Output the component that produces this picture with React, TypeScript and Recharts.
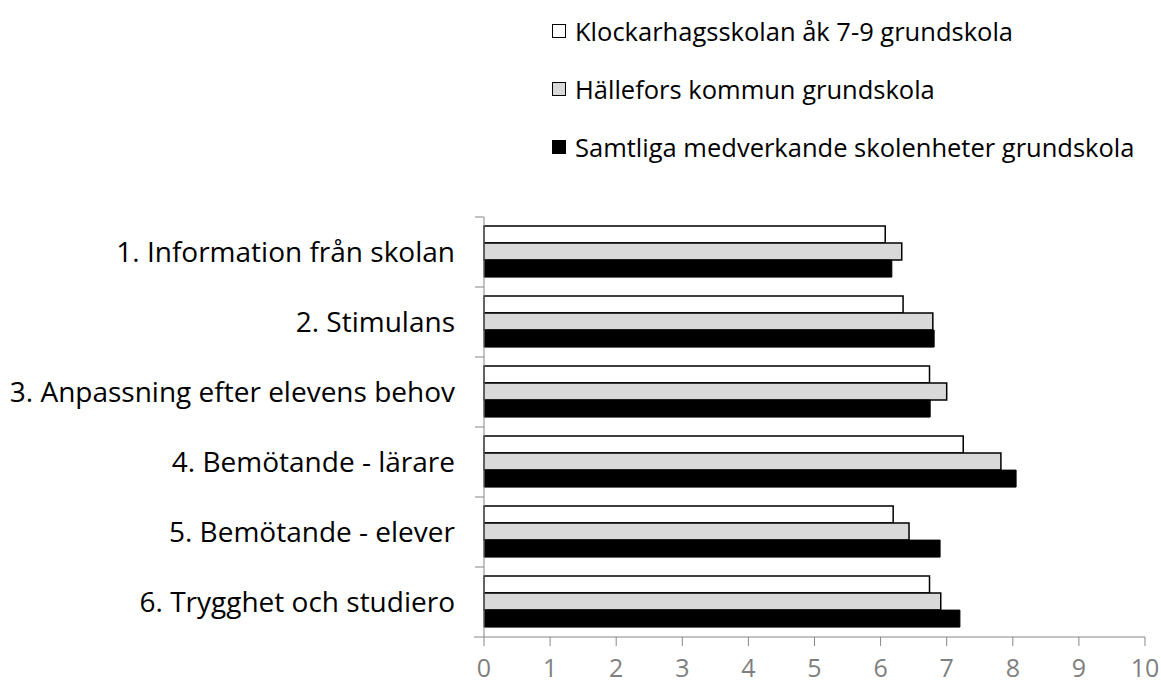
import { BarChart, Bar, XAxis, YAxis } from "recharts";

const categories = [
  "1. Information från skolan",
  "2. Stimulans",
  "3. Anpassning efter elevens behov",
  "4. Bemötande - lärare",
  "5. Bemötande - elever",
  "6. Trygghet och studiero",
];
const klockarhagsskolan = [6.07, 6.34, 6.74, 7.25, 6.19, 6.74];
const hallefors = [6.32, 6.79, 7.0, 7.82, 6.43, 6.91];
const samtliga = [6.17, 6.81, 6.75, 8.05, 6.9, 7.2];
const xTicks = [0, 1, 2, 3, 4, 5, 6, 7, 8, 9, 10];

const seriesNames = [
  "Klockarhagsskolan åk 7-9 grundskola",
  "Hällefors kommun grundskola",
  "Samtliga medverkande skolenheter grundskola",
];
const seriesFills = ["#ffffff", "#d9d9d9", "#000000"];

const data = categories.map((name, i) => ({
  name,
  a: klockarhagsskolan[i],
  b: hallefors[i],
  c: samtliga[i],
}));

const W = 1161;
const H = 686;
const TOP = 217;
const AXIS_W = 484;
const X_AXIS_H = 49;
const FONT = "'Open Sans', 'Noto Sans', sans-serif";
const HALF_BAND = (H - TOP - X_AXIS_H) / categories.length / 2;

const CategoryTick = (props: any) => {
  const { y, payload, index } = props;
  const left = AXIS_W;
  return (
    <g>
      <line x1={left - 9} x2={left} y1={y - HALF_BAND} y2={y - HALF_BAND} stroke="#868686" />
      {index === categories.length - 1 && (
        <line x1={left - 10} x2={left} y1={y + HALF_BAND} y2={y + HALF_BAND} stroke="#868686" />
      )}
      <text x={455} y={y} dy={10} textAnchor="end" fontSize={28} fill="#000" fontFamily={FONT}>
        {payload.value}
      </text>
    </g>
  );
};

const LegendBox = () => (
  <div
    style={{
      position: "absolute",
      left: 552,
      top: 2,
      fontFamily: FONT,
      fontSize: 25.5,
      color: "#000",
      whiteSpace: "nowrap",
    }}
  >
    {seriesNames.map((n, i) => (
      <div key={n} style={{ display: "flex", alignItems: "center", height: 58 }}>
        <span
          style={{
            display: "inline-block",
            width: 12,
            height: 12,
            background: seriesFills[i],
            border: "1.5px solid #000",
            marginRight: 9,
          }}
        />
        {n}
      </div>
    ))}
  </div>
);

export default function App() {
  return (
    <div style={{ position: "absolute", left: 0, top: 0, width: W, height: H, background: "#fff" }}>
      <BarChart
        width={W}
        height={H}
        data={data}
        layout="vertical"
        margin={{ top: TOP, right: 16, bottom: 0, left: 0 }}
        barCategoryGap="13%"
        barGap={0}
      >
        <XAxis
          type="number"
          domain={[0, 10]}
          ticks={xTicks}
          interval={0}
          height={X_AXIS_H}
          stroke="#868686"
          tickSize={9}
          tick={{ fontSize: 25, fill: "#7f7f7f", fontFamily: FONT }}
          tickMargin={13}
        />
        <YAxis
          type="category"
          dataKey="name"
          width={AXIS_W}
          stroke="#868686"
          tickLine={false}
          tick={<CategoryTick />}
          interval={0}
        />
        <Bar dataKey="a" name={seriesNames[0]} fill={seriesFills[0]} stroke="#000" strokeWidth={1.5} isAnimationActive={false} />
        <Bar dataKey="b" name={seriesNames[1]} fill={seriesFills[1]} stroke="#000" strokeWidth={1.5} isAnimationActive={false} />
        <Bar dataKey="c" name={seriesNames[2]} fill={seriesFills[2]} stroke="#000" strokeWidth={1} isAnimationActive={false} />
      </BarChart>
      <LegendBox />
    </div>
  );
}
